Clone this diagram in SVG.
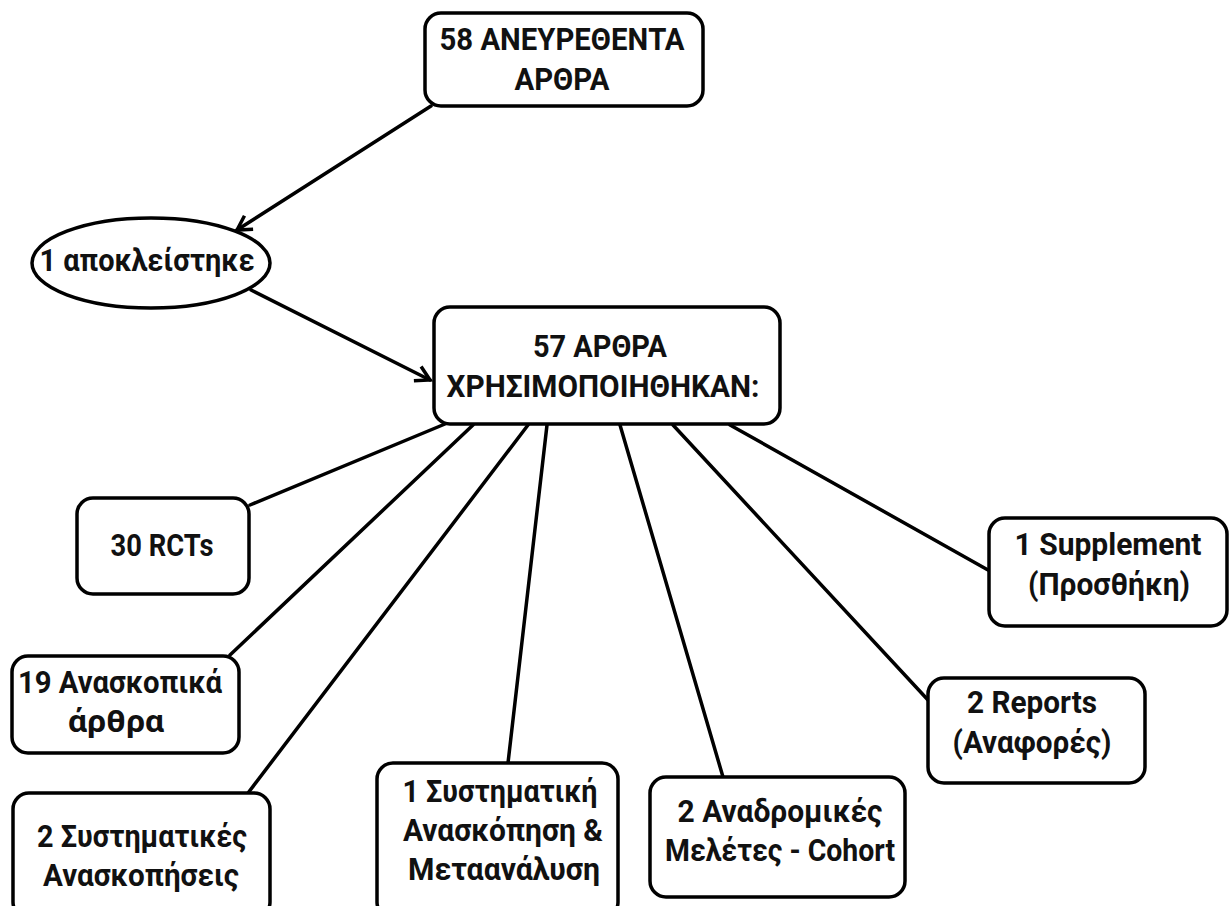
<svg xmlns="http://www.w3.org/2000/svg" width="1229" height="906" viewBox="0 0 1229 906">
<style>
.box{fill:#fff;stroke:#000;stroke-width:3.5}
.t{font-family:Roboto,"Open Sans","DejaVu Sans",sans-serif;font-weight:700;font-size:31px;fill:#111;text-anchor:middle}
.c{stroke:#000;stroke-width:3.5;fill:none;stroke-linecap:round}
</style>
<defs>
<marker id="arr" markerUnits="userSpaceOnUse" viewBox="0 0 20 20" markerWidth="20" markerHeight="20" refX="17" refY="10" orient="auto">
<path d="M3,2 L17,10 L3,18" fill="none" stroke="#000" stroke-width="3.5" stroke-linejoin="miter"/>
</marker>
</defs>
<rect width="1229" height="906" fill="#fff"/>
<g id="connectors">
<line class="c" x1="431" y1="106" x2="237" y2="230" marker-end="url(#arr)"/>
<line class="c" x1="251" y1="290" x2="430" y2="380" marker-end="url(#arr)"/>
<line class="c" x1="445" y1="424" x2="250" y2="505"/>
<line class="c" x1="473" y1="425" x2="230" y2="655"/>
<line class="c" x1="528" y1="425" x2="248" y2="793"/>
<line class="c" x1="547" y1="425" x2="508" y2="763"/>
<line class="c" x1="620" y1="425" x2="723" y2="777"/>
<line class="c" x1="673" y1="425" x2="928" y2="700"/>
<line class="c" x1="730" y1="425" x2="988" y2="570"/>
</g>
<g id="n-found">
<rect class="box" x="425" y="13" width="278" height="93" rx="16"/>
<text class="t" x="562" y="50" textLength="245" lengthAdjust="spacingAndGlyphs">58 ΑΝΕΥΡΕΘΕΝΤΑ</text>
<text class="t" x="562" y="90" textLength="95" lengthAdjust="spacingAndGlyphs">ΑΡΘΡΑ</text>
</g>
<g id="n-excluded">
<ellipse class="box" cx="151" cy="263" rx="119" ry="45"/>
<text class="t" x="147" y="271" textLength="215" lengthAdjust="spacingAndGlyphs">1 αποκλείστηκε</text>
</g>
<g id="n-used">
<rect class="box" x="434" y="307" width="346" height="117" rx="16"/>
<text class="t" x="600" y="357" textLength="134" lengthAdjust="spacingAndGlyphs">57 ΑΡΘΡΑ</text>
<text class="t" x="603" y="397" textLength="313" lengthAdjust="spacingAndGlyphs">ΧΡΗΣΙΜΟΠΟΙΗΘΗΚΑΝ:</text>
</g>
<g id="n-rcts">
<rect class="box" x="77" y="498" width="172" height="96" rx="16"/>
<text class="t" x="162" y="556" textLength="103" lengthAdjust="spacingAndGlyphs">30 RCTs</text>
</g>
<g id="n-reviews">
<rect class="box" x="12" y="656" width="227" height="97" rx="16"/>
<text class="t" x="120" y="693" textLength="204" lengthAdjust="spacingAndGlyphs">19 Ανασκοπικά</text>
<text class="t" x="116" y="732" textLength="96" lengthAdjust="spacingAndGlyphs">άρθρα</text>
</g>
<g id="n-sysrev">
<rect class="box" x="13" y="793" width="257" height="125" rx="16"/>
<text class="t" x="142" y="847" textLength="210" lengthAdjust="spacingAndGlyphs">2 Συστηματικές</text>
<text class="t" x="141" y="886" textLength="196" lengthAdjust="spacingAndGlyphs">Ανασκοπήσεις</text>
</g>
<g id="n-meta">
<rect class="box" x="377" y="763" width="241" height="155" rx="16"/>
<text class="t" x="500" y="802" textLength="195" lengthAdjust="spacingAndGlyphs">1 Συστηματική</text>
<text class="t" x="503" y="841" textLength="200" lengthAdjust="spacingAndGlyphs">Ανασκόπηση &amp;</text>
<text class="t" x="504" y="880" textLength="192" lengthAdjust="spacingAndGlyphs">Μεταανάλυση</text>
</g>
<g id="n-cohort">
<rect class="box" x="650" y="777" width="255" height="120" rx="16"/>
<text class="t" x="780" y="822" textLength="205" lengthAdjust="spacingAndGlyphs">2 Αναδρομικές</text>
<text class="t" x="780" y="861" textLength="230" lengthAdjust="spacingAndGlyphs">Μελέτες - Cohort</text>
</g>
<g id="n-reports">
<rect class="box" x="928" y="678" width="217" height="105" rx="16"/>
<text class="t" x="1032" y="713" textLength="130" lengthAdjust="spacingAndGlyphs">2 Reports</text>
<text class="t" x="1032" y="753" textLength="159" lengthAdjust="spacingAndGlyphs">(Αναφορές)</text>
</g>
<g id="n-supplement">
<rect class="box" x="989" y="518" width="238" height="108" rx="16"/>
<text class="t" x="1108" y="555" textLength="187" lengthAdjust="spacingAndGlyphs">1 Supplement</text>
<text class="t" x="1109" y="595" textLength="162" lengthAdjust="spacingAndGlyphs">(Προσθήκη)</text>
</g>
</svg>
